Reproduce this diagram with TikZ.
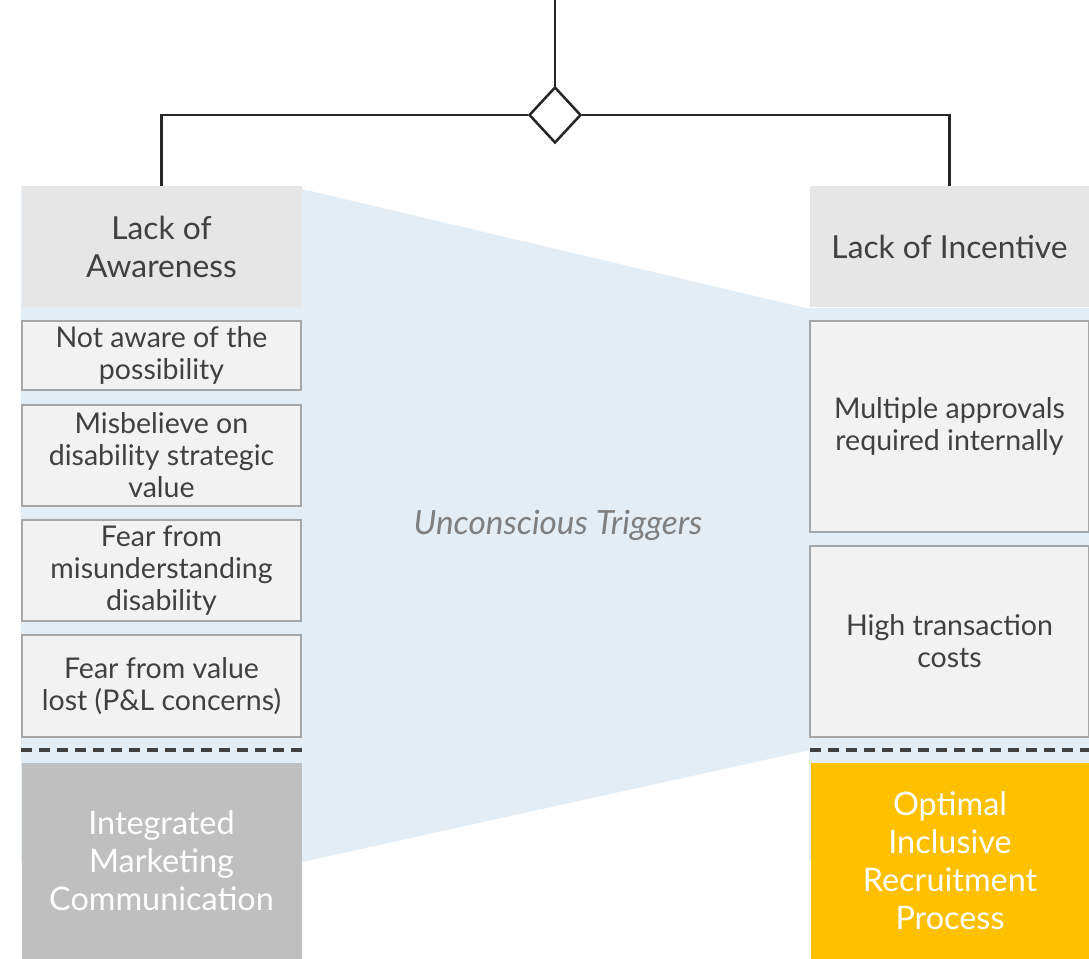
\documentclass[tikz,border=0pt]{standalone}
\usepackage{fontspec}
\setmainfont{Lato}
\usetikzlibrary{shapes.geometric, positioning}
\definecolor{HeadGray}{HTML}{E6E6E6}
\definecolor{ItemGray}{HTML}{F2F2F2}
\definecolor{ItemLine}{HTML}{A6A6A6}
\definecolor{TextDark}{HTML}{404040}
\definecolor{LineDark}{HTML}{262626}
\definecolor{BandBlue}{HTML}{E3EDF6}
\definecolor{NoteGray}{HTML}{7F7F7F}
\definecolor{ResultGray}{HTML}{BFBFBF}
\definecolor{ResultGold}{HTML}{FFC000}

\begin{document}
\begin{tikzpicture}[x=0.75pt, y=-0.75pt, node distance=10.5pt,
        headbox/.style={rectangle, fill=HeadGray, text=TextDark, minimum width=210pt, minimum height=90.75pt, inner sep=0pt, outer sep=0pt, align=center, font=\fontsize{23.8}{28.5}\selectfont},
        itembox/.style={rectangle, draw=ItemLine, line width=1.5pt, fill=ItemGray, text=TextDark, minimum width=209pt, inner sep=0pt, outer sep=0pt, align=center, font=\fontsize{21.4}{24}\selectfont},
        resultbox/.style={rectangle, text=white, minimum width=210pt, minimum height=147pt, inner sep=0pt, align=center, font=\fontsize{24.3}{28.5}\selectfont},
        decision/.style={diamond, draw=LineDark, line width=1.9pt, fill=white, minimum width=39pt, minimum height=42pt, inner sep=0pt},
        link/.style={draw=LineDark, line width=1.9pt},
        splitline/.style={draw=TextDark, line width=2.4pt, dash pattern=on 8.25pt off 5.25pt}]

        \useasboundingbox (0,0) rectangle (1089,959);

        % light blue band behind both columns
        \fill[BandBlue] (21,186) rectangle (302,862);
        \fill[BandBlue] (809,308) rectangle (1089,862);
        \fill[BandBlue] (302,189) -- (810,309) -- (810,750) -- (302,862) -- cycle;

        \node[font=\itshape\fontsize{25}{30}\selectfont, text=NoteGray] (triggers) at (558,525) {Unconscious Triggers};

        % left column
        \node[headbox] (awareness) at (161.5,246.5) {Lack of\\Awareness};
        \node[itembox, minimum height=51.75pt, below=of awareness] (possible) {Not aware of the\\possibility};
        \node[itembox, minimum height=75.75pt, below=11.25pt of possible] (misbelief) {Misbelieve on\\disability strategic\\value};
        \node[itembox, minimum height=75.75pt, below=of misbelief] (fear) {Fear from\\misunderstanding\\disability};
        \node[itembox, minimum height=76.5pt, below=of fear] (lost) {Fear from value\\lost (P\&L concerns)};
        \draw[splitline] (21,750) -- (302,750);
        \node[resultbox, fill=ResultGray] (imc) at (161.5,861) {Integrated\\Marketing\\Communication};

        % right column
        \node[headbox] (incentive) at (949.5,247) {Lack of Incentive};
        \node[itembox, minimum height=157.5pt, below=of incentive] (approvals) {Multiple approvals\\required internally};
        \node[itembox, minimum height=143.25pt, below=of approvals] (costs) {High transaction\\costs};
        \draw[splitline] (810,750) -- (1089,750);
        \node[resultbox, fill=ResultGold, minimum width=208.5pt] (recruit) at (950,861) {Optimal\\Inclusive\\Recruitment\\Process};

        % connectors
        \coordinate (root) at (555,0);
        \node[decision] (split) at (555,115) {};
        \draw[link] (root) -- (split);
        \draw[link] (split) -| (awareness);
        \draw[link] (split) -| (incentive);
    \end{tikzpicture}
\end{document}
